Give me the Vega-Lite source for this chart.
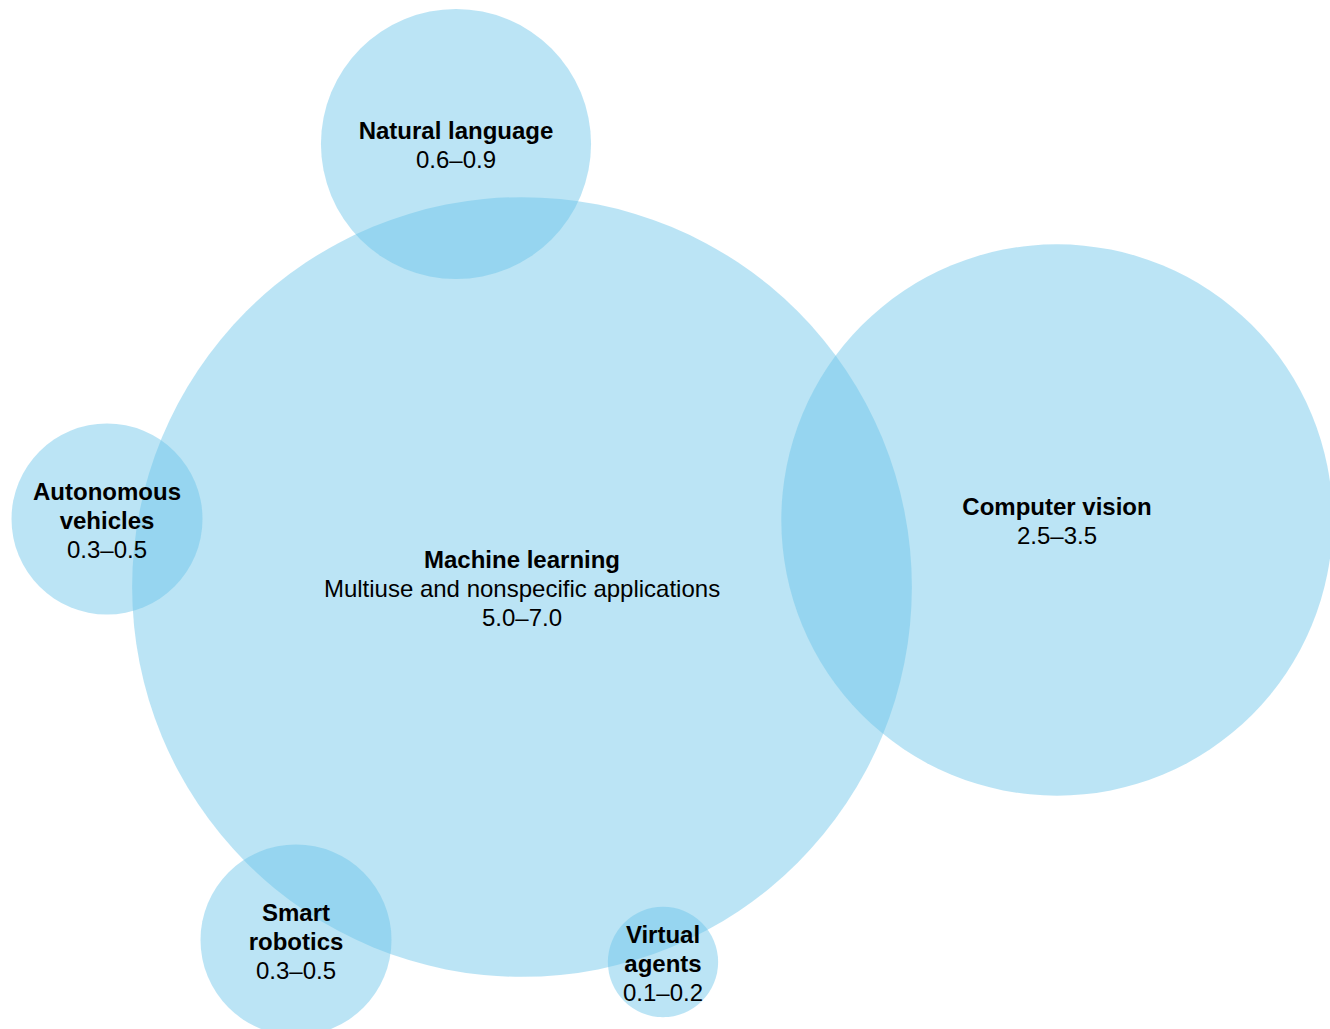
{
  "$schema": "https://vega.github.io/schema/vega-lite/v6.json",
  "width": 1330,
  "height": 1029,
  "autosize": {"type": "none"},
  "padding": 0,
  "background": "white",
  "config": {"view": {"stroke": null}},
  "data": {
    "values": [
      {"name": "Machine learning", "title": "Machine learning", "detail": "Multiuse and nonspecific applications\n5.0–7.0", "low": 5.0, "high": 7.0, "x": 522, "y": 587},
      {"name": "Natural language", "title": "Natural language", "detail": "0.6–0.9", "low": 0.6, "high": 0.9, "x": 456, "y": 144},
      {"name": "Computer vision", "title": "Computer vision", "detail": "2.5–3.5", "low": 2.5, "high": 3.5, "x": 1057, "y": 520},
      {"name": "Autonomous vehicles", "title": "Autonomous\nvehicles", "detail": "0.3–0.5", "low": 0.3, "high": 0.5, "x": 107, "y": 519},
      {"name": "Smart robotics", "title": "Smart\nrobotics", "detail": "0.3–0.5", "low": 0.3, "high": 0.5, "x": 296, "y": 940},
      {"name": "Virtual agents", "title": "Virtual\nagents", "detail": "0.1–0.2", "low": 0.1, "high": 0.2, "x": 663, "y": 962}
    ]
  },
  "transform": [
    {"calculate": "datum.title + '\\n' + replace(datum.detail, regexp('[^\\n]+', 'g'), '\u200b')", "as": "boldText"},
    {"calculate": "replace(datum.title, regexp('[^\\n]+', 'g'), '\u200b') + '\\n' + datum.detail", "as": "plainText"},
    {"calculate": "length(split(datum.boldText, '\\n'))", "as": "nLines"}
  ],
  "encoding": {
    "x": {"field": "x", "type": "quantitative", "scale": {"domain": [0, 1330], "nice": false, "zero": false}, "axis": null},
    "y": {"field": "y", "type": "quantitative", "scale": {"domain": [0, 1029], "nice": false, "zero": false, "reverse": true}, "axis": null}
  },
  "layer": [
    {
      "mark": {"type": "point", "shape": "circle", "filled": true, "color": "#6AC4E9", "opacity": 0.46, "strokeWidth": 0},
      "encoding": {
        "size": {"field": "low", "type": "quantitative", "scale": {"domain": [0, 5], "range": [0, 608000], "zero": true}, "legend": null}
      }
    },
    {
      "transform": [{"filter": "datum.nLines == 2"}],
      "mark": {"type": "text", "font": "Liberation Sans", "fontSize": 24, "fontWeight": "bold", "color": "#000000", "align": "center", "baseline": "middle", "lineBreak": "\n", "lineHeight": 29, "dy": -12},
      "encoding": {"text": {"field": "boldText"}}
    },
    {
      "transform": [{"filter": "datum.nLines == 2"}],
      "mark": {"type": "text", "font": "Liberation Sans", "fontSize": 24, "fontWeight": "normal", "color": "#000000", "align": "center", "baseline": "middle", "lineBreak": "\n", "lineHeight": 29, "dy": -12},
      "encoding": {"text": {"field": "plainText"}}
    },
    {
      "transform": [{"filter": "datum.nLines == 3"}],
      "mark": {"type": "text", "font": "Liberation Sans", "fontSize": 24, "fontWeight": "bold", "color": "#000000", "align": "center", "baseline": "middle", "lineBreak": "\n", "lineHeight": 29, "dy": -26},
      "encoding": {"text": {"field": "boldText"}}
    },
    {
      "transform": [{"filter": "datum.nLines == 3"}],
      "mark": {"type": "text", "font": "Liberation Sans", "fontSize": 24, "fontWeight": "normal", "color": "#000000", "align": "center", "baseline": "middle", "lineBreak": "\n", "lineHeight": 29, "dy": -26},
      "encoding": {"text": {"field": "plainText"}}
    }
  ]
}
